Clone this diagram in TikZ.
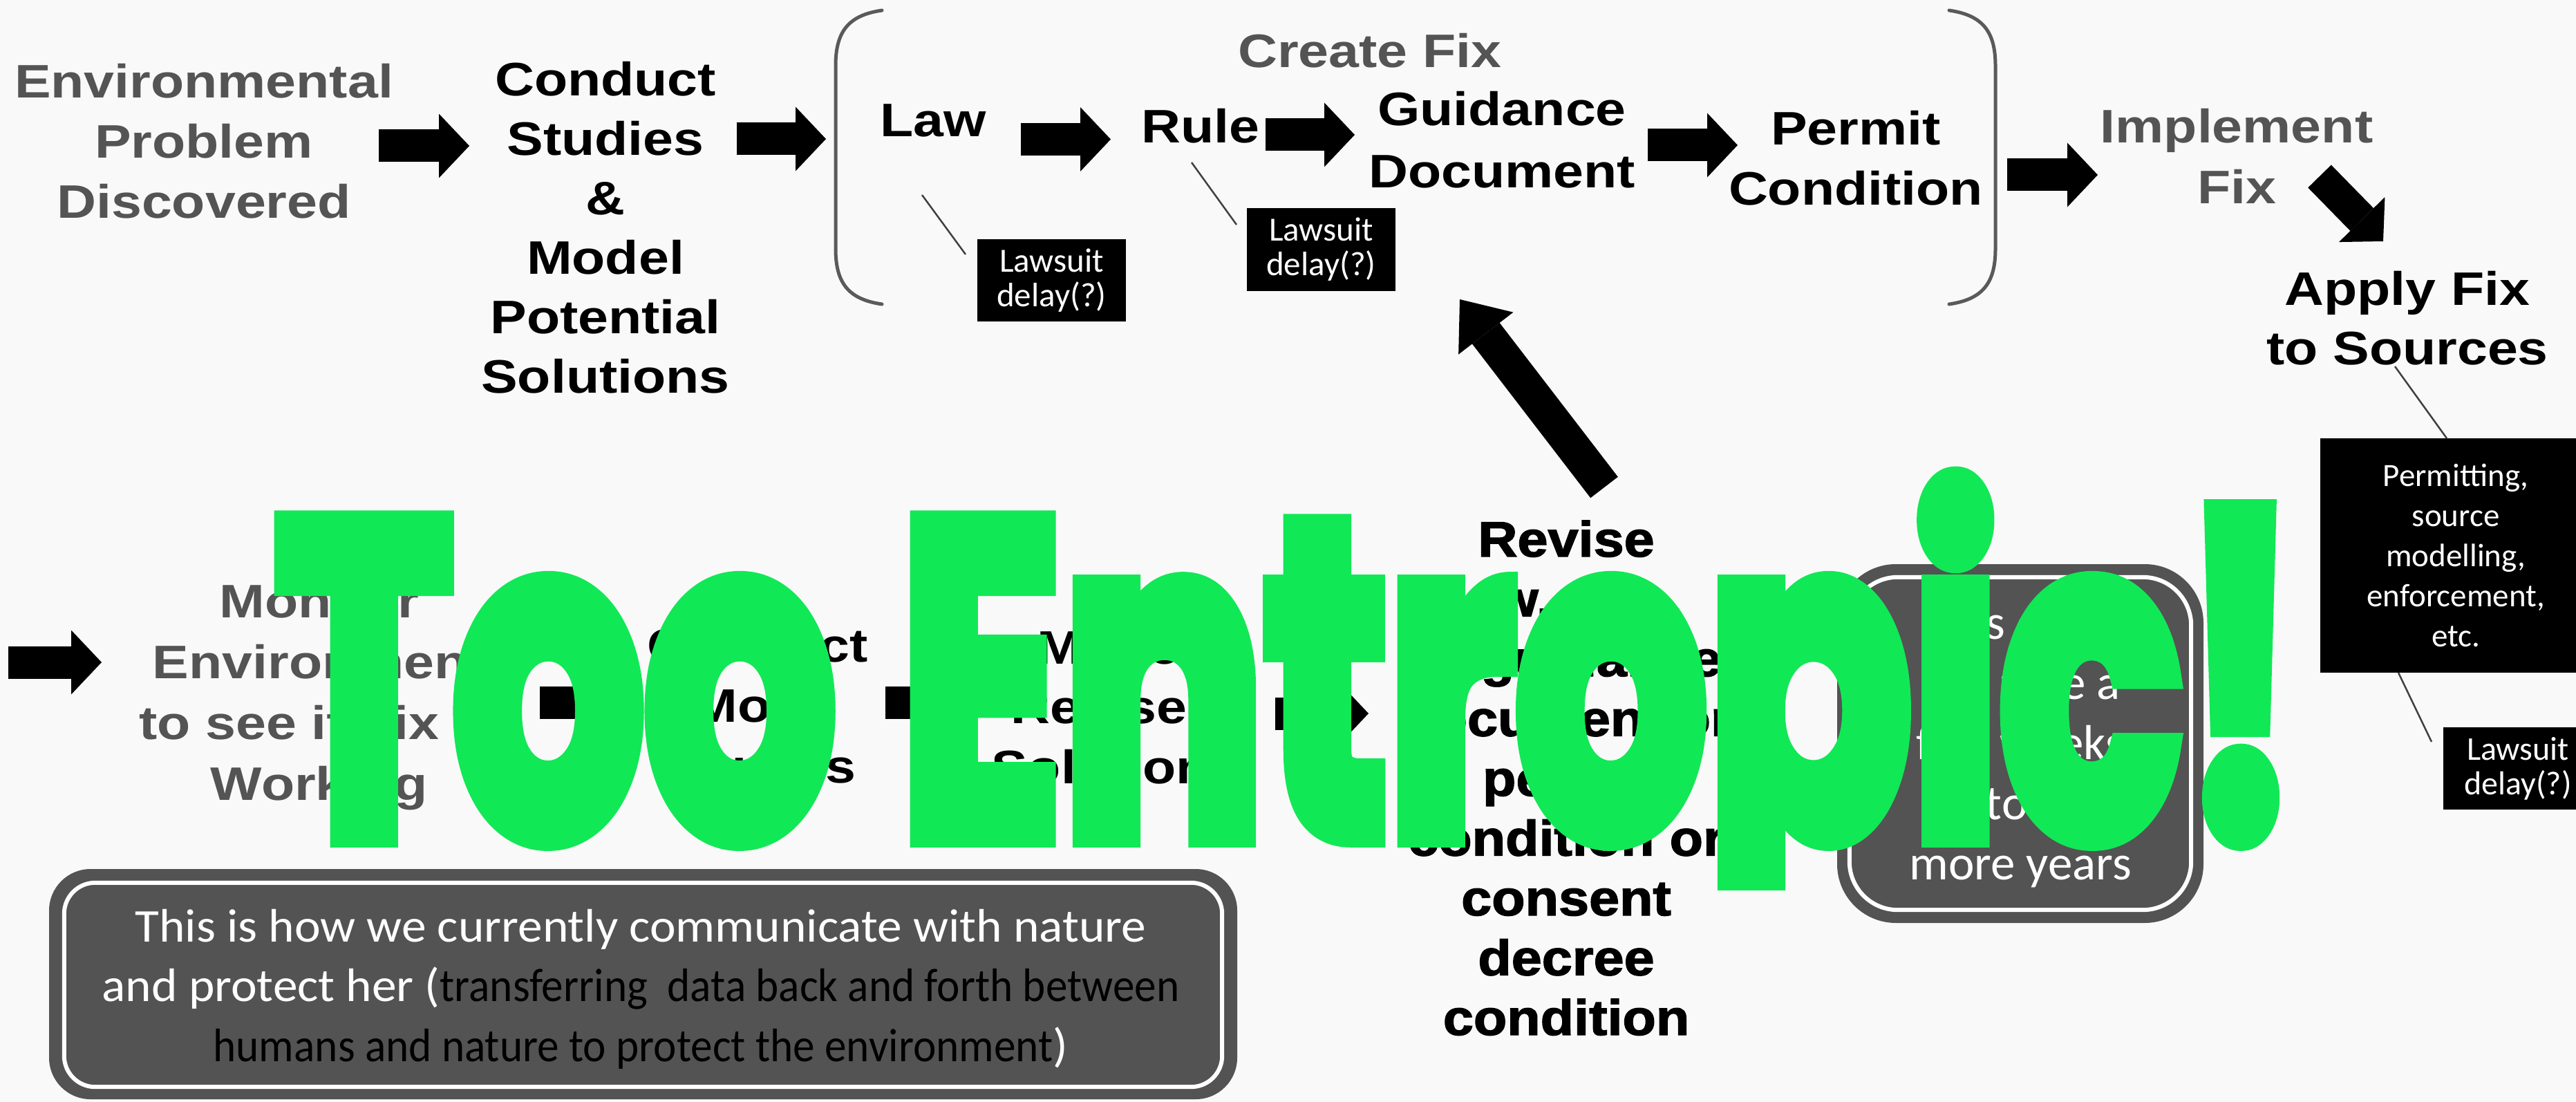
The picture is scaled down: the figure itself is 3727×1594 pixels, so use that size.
\documentclass[tikz,border=0pt]{standalone}
\usepackage{fontspec}
\usepackage{graphicx}
\setmainfont{Liberation Sans}[FakeStretch=1.16]
\newfontfamily\revfont{Liberation Sans}[FakeStretch=1.1,FakeBold=2]
\newfontfamily\calfont{Carlito}
\newfontfamily\calwide{Carlito}[FakeStretch=1.05]
\newfontfamily\calnarrow{Carlito}[FakeStretch=0.93]
\newfontfamily\greenfont{Poppins}[FakeBold=5.5]
\usetikzlibrary{arrows.meta}
\definecolor{bg}{HTML}{F9F9F9}
\definecolor{greytxt}{HTML}{545454}
\definecolor{boxgrey}{HTML}{535353}
\definecolor{neon}{HTML}{11E855}
\definecolor{brk}{HTML}{5A5A5A}
\tikzset{
  lbl/.style={font=\bfseries\fontsize{68}{87}\selectfont, align=center, inner sep=0pt, anchor=base},
  glbl/.style={lbl, text=greytxt},
  revlbl/.style={font=\revfont\bfseries\fontsize{72}{86.5}\selectfont, align=center, inner sep=0pt, anchor=base},
  blkbox/.style={fill=black, text=white, font=\calfont\fontsize{49}{50}\selectfont, align=center, inner sep=0pt},
  barrow/.style={line width=47pt, draw=black, -{Triangle[length=44pt,width=93pt,line width=0pt]}},
  leader/.style={line width=2.5pt, draw=black!75},
  brack/.style={line width=5pt, draw=brk, line cap=round},
  whitetxt/.style={text=white, align=center, inner sep=0pt, anchor=base}
}
\begin{document}
\begin{tikzpicture}[x=1pt,y=-1pt]
\useasboundingbox (0,0) rectangle (3727,1594);
\fill[bg] (0,0) rectangle (3727,1594);

% brackets of "Create Fix"
\draw[brack] (1276,15) .. controls (1228,22) and (1209,45) .. (1209,95) -- (1209,360) .. controls (1209,410) and (1228,433) .. (1276,440);
\draw[brack] (2820,15) .. controls (2868,22) and (2887,45) .. (2887,95) -- (2887,360) .. controls (2887,410) and (2868,433) .. (2820,440);

% top row labels (anchor = baseline of last line)
\node[glbl] (envp) at (295,315.6) {Environmental\\Problem\\Discovered};
\node[lbl, font=\bfseries\fontsize{68}{86}\selectfont] (studies) at (876,568.5) {Conduct\\Studies\\\&\\Model\\Potential\\Solutions};
\node[glbl] (createfix) at (1982,98) {Create Fix};
\node[lbl] (law) at (1350,198) {Law};
\node[lbl] (rule) at (1737,207) {Rule};
\node[lbl, font=\bfseries\fontsize{68}{90}\selectfont] (guide) at (2173,272) {Guidance\\Document};
\node[lbl] (permit) at (2685,297) {Permit\\Condition};
\node[glbl, font=\bfseries\fontsize{68}{88}\selectfont] (implement) at (3236,295) {Implement\\Fix};
\node[lbl, font=\bfseries\fontsize{68}{86}\selectfont] (apply) at (3483,527) {Apply Fix\\to Sources};

% black note boxes
\node[blkbox, minimum width=215pt, minimum height=119pt] (ls1) at (1521.5,405.5) {Lawsuit\\delay(?)};
\node[blkbox, minimum width=215pt, minimum height=120pt] (ls2) at (1911.5,361) {Lawsuit\\delay(?)};
\node[blkbox, font=\calfont\fontsize{47}{58}\selectfont, minimum width=392pt, minimum height=339pt] (permbox) at (3553,803.5) {Permitting,\\source\\modelling,\\enforcement,\\etc.};
\node[blkbox, font=\calfont\fontsize{48}{50}\selectfont, minimum width=216pt, minimum height=119pt] (ls3) at (3643,1111.5) {Lawsuit\\delay(?)};

% leader lines
\coordinate (l1a) at (1334,282); \coordinate (l1b) at (1397,368);
\coordinate (l2a) at (1724,235); \coordinate (l2b) at (1789,325);
\coordinate (l3a) at (3465,530); \coordinate (l3b) at (3540,634);
\coordinate (l4a) at (3470,973); \coordinate (l4b) at (3518,1073);
\draw[leader] (l1a) -- (l1b);
\draw[leader] (l2a) -- (l2b);
\draw[leader] (l3a) -- (l3b);
\draw[leader] (l4a) -- (l4b);

% top row arrows
\coordinate (a1s) at (548,211);   \coordinate (a1e) at (679,211);
\coordinate (a2s) at (1066,201);  \coordinate (a2e) at (1195,201);
\coordinate (a3s) at (1477,201.5);\coordinate (a3e) at (1607,201.5);
\coordinate (a4s) at (1831,195);  \coordinate (a4e) at (1960,195);
\coordinate (a5s) at (2384,210);  \coordinate (a5e) at (2514,210);
\coordinate (a6s) at (2904,253);  \coordinate (a6e) at (3035,253);
\coordinate (a7s) at (3356,255);  \coordinate (a7e) at (3448,349);
\draw[barrow] (a1s) -- (a1e);
\draw[barrow] (a2s) -- (a2e);
\draw[barrow] (a3s) -- (a3e);
\draw[barrow] (a4s) -- (a4e);
\draw[barrow] (a5s) -- (a5e);
\draw[barrow] (a6s) -- (a6e);
\draw[barrow] (a7s) -- (a7e);

% lower row
\node[glbl, font=\bfseries\fontsize{68}{87.7}\selectfont] (monitor) at (462,1157) {Monitor\\Environment\\to see if Fix is\\Working};
\node[lbl, font=\bfseries\fontsize{68}{87.5}\selectfont] (more) at (1096,1132) {Conduct\\More\\Studies};
\node[lbl, font=\bfseries\fontsize{68}{86.5}\selectfont] (modelrev) at (1614,1133) {Model\\Revised\\Solutions};
\node[revlbl] (revise) at (2266,1497) {Revise\\law, rule,\\or guidance\\document or\\permit\\condition or\\consent\\decree\\condition};

\coordinate (a8s) at (12,958);    \coordinate (a8e) at (147,958);
\coordinate (a9s) at (781,1016);  \coordinate (a9e) at (915,1016);
\coordinate (a10s) at (1281,1016);\coordinate (a10e) at (1415,1016);
\coordinate (a11s) at (1845,1032);\coordinate (a11e) at (1980,1032);
\coordinate (a12s) at (2321,705); \coordinate (a12e) at (2112,433);
\draw[barrow] (a8s) -- (a8e);
\draw[barrow] (a9s) -- (a9e);
\draw[barrow] (a10s) -- (a10e);
\draw[barrow] (a11s) -- (a11e);
\draw[line width=50pt, draw=black, -{Triangle[length=62pt,width=100pt,line width=0pt]}] (a12s) -- (a12e);

% time box
\node[fill=boxgrey, rounded corners=85pt, minimum width=530pt, minimum height=519pt, inner sep=0pt] (cyclebox) at (2923,1075.5) {};
\draw[white, line width=6pt, rounded corners=70pt] ([shift={(18,19)}]cyclebox.north west) rectangle ([shift={(-18,-19)}]cyclebox.south east);
\node[whitetxt, font=\calfont\fontsize{71}{87}\selectfont] (cycletext) at (2923,1272) {This cycle\\can take a\\few weeks\\up to 2 or\\more years};

% communication box
\node[fill=boxgrey, rounded corners=60pt, minimum width=1719pt, minimum height=333pt, inner sep=0pt] (commbox) at (930.5,1423.5) {};
\draw[white, line width=6pt, rounded corners=45pt] ([shift={(22,20)}]commbox.north west) rectangle ([shift={(-22,-18)}]commbox.south east);
\node[whitetxt, font=\calwide\fontsize{68}{86.5}\selectfont] (commtext) at (927,1535) {This is how we currently communicate with nature\\and protect her ({\calnarrow\color{black}transferring\ \ data back and forth between}\\{\calnarrow\color{black}humans and nature to protect the environment})};

% overlay
\begin{scope}
\clip (0,0) rectangle (3727,1287);
\node[anchor=base west, inner sep=0pt, text=neon] (entropic) at (398,1208) {\resizebox{2925pt}{515pt}{\greenfont\bfseries Too Entropic!}};
\end{scope}
\end{tikzpicture}
\end{document}
